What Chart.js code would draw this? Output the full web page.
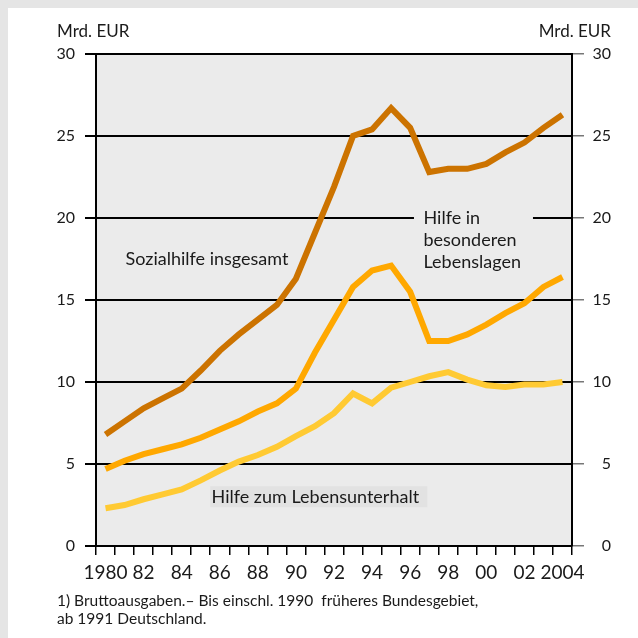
<!DOCTYPE html>
<html lang="de">
<head>
<meta charset="utf-8">
<script src="https://cdn.jsdelivr.net/npm/chart.js@4.4.1/dist/chart.umd.min.js"></script>
<style>
  html, body { margin: 0; padding: 0; background: #fff; }
  #chart { display: block; }
</style>
</head>
<body>
<canvas id="chart" width="638" height="638"></canvas>
<script>
// Sozialhilfe: Bruttoausgaben in Mrd. EUR
const years = ['1980', '1981', '1982', '1983', '1984', '1985', '1986', '1987', '1988', '1989', '1990', '1991', '1992',
  '1993', '1994', '1995', '1996', '1997', '1998', '1999', '2000', '2001', '2002', '2003', '2004'];
const xTickLabels = ['1980', '', '82', '', '84', '', '86', '', '88', '', '90', '', '92',
  '', '94', '', '96', '', '98', '', '00', '', '02', '', '2004'];

const sozialhilfeInsgesamt = [6.8, 7.6, 8.4, 9.0, 9.6, 10.7, 11.9, 12.9, 13.8, 14.7, 16.3, 19.1, 21.9,
  25.0, 25.4, 26.7, 25.5, 22.8, 23.0, 23.0, 23.3, 24.0, 24.6, 25.5, 26.3];
const hilfeBesondereLagen = [4.7, 5.2, 5.6, 5.9, 6.2, 6.6, 7.1, 7.6, 8.2, 8.7, 9.6, 11.8, 13.8,
  15.8, 16.8, 17.1, 15.5, 12.5, 12.5, 12.9, 13.5, 14.2, 14.8, 15.8, 16.4];
const hilfeLebensunterhalt = [2.3, 2.5, 2.85, 3.15, 3.45, 4.0, 4.6, 5.15, 5.55, 6.05, 6.7, 7.3, 8.1,
  9.3, 8.7, 9.65, 10.0, 10.35, 10.6, 10.15, 9.8, 9.7, 9.85, 9.85, 10.0];

const yMin = 0;
const yMax = 30;
const yStep = 5;

const FONT = 'Lato';
const TEXT = '#1a1a1a';

// Hintergrund, Rahmen, Beschriftungen
const decor = {
  id: 'decor',
  beforeDraw(chart) {
    const { ctx, chartArea: a } = chart;
    ctx.save();
    ctx.fillStyle = '#ffffff';
    ctx.fillRect(0, 0, chart.width, chart.height);
    ctx.fillStyle = '#e5e5e5';
    ctx.fillRect(0, 0, chart.width, 8);
    ctx.fillRect(0, 0, 8, chart.height);
    ctx.fillStyle = '#ebebeb';
    ctx.fillRect(a.left, a.top, a.right - a.left, a.bottom - a.top);
    ctx.restore();
  },
  beforeDatasetsDraw(chart) {
    const { ctx, scales: { x, y } } = chart;
    ctx.save();
    // Kasten hinter "Hilfe in besonderen Lebenslagen" unterbricht die Gitterlinie
    ctx.fillStyle = '#ebebeb';
    const bx = x.getPixelForValue(16.2);
    ctx.fillRect(bx, y.getPixelForValue(20.6), x.getPixelForValue(22.45) - bx, 18);
    // Kasten hinter "Hilfe zum Lebensunterhalt"
    ctx.fillStyle = '#e2e2e2';
    const lx = x.getPixelForValue(5.5);
    ctx.fillRect(lx, y.getPixelForValue(3.65), x.getPixelForValue(16.9) - lx, 21);
    ctx.restore();
  },
  afterDraw(chart) {
    const { ctx, scales: { x, y } } = chart;
    ctx.save();
    ctx.fillStyle = TEXT;
    ctx.textBaseline = 'middle';

    ctx.font = `17px ${FONT}`;
    ctx.textAlign = 'left';
    ctx.fillText('Mrd. EUR', 57, 32);
    ctx.textAlign = 'right';
    ctx.fillText('Mrd. EUR', 611, 32);

    ctx.font = `18px ${FONT}`;
    ctx.textAlign = 'left';
    ctx.fillText('Sozialhilfe insgesamt', x.getPixelForValue(1.05), y.getPixelForValue(17.5));
    const hx = x.getPixelForValue(16.7);
    ctx.fillText('Hilfe in', hx, y.getPixelForValue(20.0));
    ctx.fillText('besonderen', hx, y.getPixelForValue(18.66));
    ctx.fillText('Lebenslagen', hx, y.getPixelForValue(17.3));
    ctx.fillText('Hilfe zum Lebensunterhalt', x.getPixelForValue(5.57), y.getPixelForValue(3.0));

    ctx.font = `15.5px ${FONT}`;
    ctx.fillText('1) Bruttoausgaben.– Bis einschl. 1990  früheres Bundesgebiet,', 57, 601);
    ctx.fillText('ab 1991 Deutschland.', 57, 619);
    ctx.restore();
  }
};

const lineStyle = {
  borderWidth: 6,
  pointRadius: 0,
  tension: 0,
  borderJoinStyle: 'miter',
  borderCapStyle: 'butt',
  fill: false,
  yAxisID: 'y'
};

new Chart(document.getElementById('chart').getContext('2d'), {
  type: 'line',
  data: {
    labels: years,
    datasets: [
      { ...lineStyle, label: 'Sozialhilfe insgesamt', data: sozialhilfeInsgesamt, borderColor: '#cc7300' },
      { ...lineStyle, label: 'Hilfe in besonderen Lebenslagen', data: hilfeBesondereLagen, borderColor: '#ffa800' },
      { ...lineStyle, label: 'Hilfe zum Lebensunterhalt', data: hilfeLebensunterhalt, borderColor: '#ffca33' }
    ]
  },
  options: {
    responsive: false,
    animation: false,
    layout: { padding: { left: 0, right: 27, top: 54, bottom: 0 } },
    plugins: {
      legend: { display: false },
      tooltip: { enabled: false }
    },
    scales: {
      x: {
        type: 'category',
        offset: true,
        afterFit(s) { s.height = 92; },
        grid: { offset: true, drawOnChartArea: false, tickLength: 9, color: '#000', lineWidth: 1.5 },
        border: { display: true, color: '#000', width: 2 },
        ticks: {
          autoSkip: false,
          maxRotation: 0,
          padding: 6,
          color: TEXT,
          font: { family: FONT, size: 19 },
          callback: (v, i) => xTickLabels[i]
        }
      },
      y: {
        position: 'left',
        min: yMin,
        max: yMax,
        afterFit(s) { s.width = 96; },
        grid: { color: '#000', lineWidth: 2, tickLength: 11 },
        border: { display: true, color: '#000', width: 2 },
        ticks: { stepSize: yStep, padding: 10, color: TEXT, font: { family: FONT, size: 16 } }
      },
      y2: {
        position: 'right',
        min: yMin,
        max: yMax,
        afterFit(s) { s.width = 39; },
        grid: { drawOnChartArea: false, color: '#777', lineWidth: 1.5, tickLength: 12 },
        border: { display: true, color: '#000', width: 2 },
        ticks: { stepSize: yStep, crossAlign: 'far', color: TEXT, font: { family: FONT, size: 16 } }
      }
    }
  },
  plugins: [decor]
});
</script>
</body>
</html>
